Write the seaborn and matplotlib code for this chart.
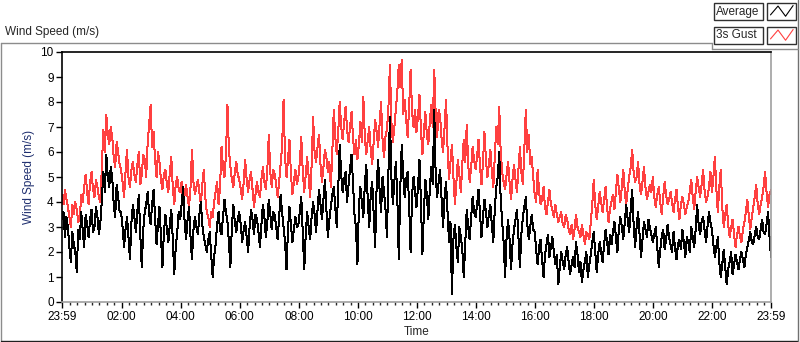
import numpy as np
import pandas as pd
import matplotlib
matplotlib.use("Agg")
import matplotlib.pyplot as plt
import seaborn as sns
from matplotlib.patches import Rectangle
from matplotlib.lines import Line2D

# 3-minute samples from 23:59 to 23:59 (one line per 2 hours)
avg_speed = [
    3.3, 3.6, 2.6, 3.4, 3.0, 2.2, 1.6, 2.8, 2.3, 2.0, 1.2, 2.9, 2.5, 3.6, 2.9, 2.2, 3.5, 3.1, 2.6, 3.3,
    3.7, 2.8, 3.0, 3.8, 3.4, 2.7, 3.2, 4.1, 5.2, 4.4, 5.9, 5.0, 4.6, 5.4, 5.0, 3.9, 3.4, 4.7, 4.2, 3.6,
    3.6, 3.0, 2.2, 2.9, 3.4, 2.6, 1.7, 3.2, 3.9, 3.4, 2.8, 3.6, 4.3, 2.7, 1.4, 2.9, 3.6, 3.9, 4.4, 3.5,
    3.1, 3.9, 4.5, 3.4, 2.3, 3.1, 3.8, 2.6, 1.4, 2.8, 3.5, 2.9, 2.4, 3.1, 3.7, 2.5, 1.1, 2.2, 2.8, 3.6,
    3.3, 3.9, 4.6, 3.2, 2.5, 3.3, 3.8, 2.6, 1.7, 2.9, 3.4, 3.0, 2.7, 3.5, 4.0, 3.1, 2.6, 2.3, 2.0, 2.5,
    2.8, 1.9, 1.0, 1.8, 2.3, 3.1, 3.6, 2.9, 2.7, 3.4, 4.1, 3.6, 3.2, 2.4, 1.4, 3.0, 3.9, 3.2, 2.8, 3.3,
    3.6, 3.1, 2.4, 2.9, 3.2, 2.6, 2.0, 3.0, 3.7, 3.3, 2.7, 3.5, 3.3, 2.8, 2.2, 3.1, 3.9, 3.4, 2.6, 3.2,
    4.1, 3.5, 2.9, 3.6, 3.5, 3.0, 2.5, 3.4, 4.3, 3.6, 3.0, 2.4, 1.3, 2.9, 3.8, 3.1, 2.4, 2.9, 3.4, 3.0,
    3.1, 3.6, 4.2, 2.8, 1.3, 2.7, 3.6, 3.0, 2.5, 3.4, 4.0, 3.5, 2.8, 3.7, 4.5, 3.9, 3.3, 4.1, 4.9, 3.7,
    2.6, 3.3, 3.8, 4.3, 4.6, 3.8, 3.0, 4.5, 6.3, 5.1, 4.4, 4.9, 5.2, 4.0, 4.7, 5.3, 5.9, 4.8, 3.5, 3.0,
    1.5, 3.8, 4.6, 4.0, 3.4, 4.7, 5.5, 4.1, 3.0, 4.3, 4.8, 3.5, 2.2, 4.6, 5.7, 4.5, 3.6, 5.0, 4.4, 3.7,
    2.6, 5.2, 7.4, 5.0, 3.9, 4.8, 5.6, 4.2, 1.7, 4.5, 6.3, 5.1, 4.2, 4.9, 5.2, 3.9, 2.0, 4.3, 5.0, 4.4,
    3.8, 4.6, 5.7, 4.0, 1.9, 3.6, 4.9, 4.3, 3.3, 4.5, 5.4, 4.7, 7.7, 5.0, 4.2, 4.8, 5.3, 4.1, 3.0, 4.2,
    4.8, 3.6, 2.4, 3.2, 0.3, 2.5, 3.1, 2.2, 1.6, 3.0, 2.6, 2.1, 1.0, 2.4, 3.7, 3.0, 2.5, 3.4, 4.2, 3.6,
    3.4, 3.9, 4.5, 3.5, 2.6, 3.4, 4.1, 3.6, 3.0, 3.5, 3.9, 3.1, 2.4, 3.7, 4.6, 5.0, 6.0, 4.1, 3.2, 2.4,
    1.0, 2.6, 3.3, 2.5, 1.3, 2.3, 2.9, 3.3, 3.7, 2.6, 1.4, 2.7, 3.4, 3.8, 4.2, 3.1, 2.5, 3.0, 3.5, 2.9,
    2.8, 2.1, 1.5, 2.2, 2.5, 1.7, 1.0, 1.9, 2.3, 2.7, 1.8, 2.2, 2.6, 2.0, 1.5, 1.9, 0.7, 1.4, 2.0, 1.6,
    1.3, 1.9, 2.2, 1.6, 1.1, 1.5, 1.8, 1.4, 2.4, 1.9, 1.2, 1.6, 0.8, 1.3, 1.6, 2.0, 1.0, 1.5, 1.9, 2.4,
    2.8, 2.0, 1.2, 1.9, 2.4, 2.0, 1.6, 2.3, 2.9, 2.4, 1.9, 2.7, 2.3, 2.8, 3.2, 2.6, 2.0, 2.9, 3.4, 3.0,
    2.5, 3.2, 3.9, 3.3, 2.8, 3.7, 4.5, 3.1, 2.2, 3.0, 3.6, 2.7, 1.8, 2.5, 3.2, 2.9, 2.6, 3.3, 3.0, 2.7,
    2.4, 2.7, 3.0, 2.2, 1.4, 2.1, 2.6, 2.9, 2.1, 2.5, 3.1, 2.6, 2.3, 2.0, 2.8, 2.2, 1.7, 2.3, 2.5, 2.1,
    2.9, 2.4, 1.8, 2.6, 2.4, 2.0, 3.0, 2.6, 2.2, 2.9, 3.9, 3.1, 2.7, 3.2, 3.4, 2.9, 2.4, 3.0, 3.6, 3.2,
    2.9, 2.3, 1.8, 2.2, 2.6, 1.6, 1.0, 1.5, 2.1, 1.4, 0.7, 1.3, 1.6, 2.0, 1.1, 1.5, 1.9, 1.6, 1.3, 1.7,
    2.0, 1.7, 1.4, 1.9, 2.2, 2.5, 2.8, 2.4, 2.3, 2.7, 3.0, 2.6, 2.5, 2.9, 3.3, 2.8, 2.7, 3.1, 3.6, 2.6,
    1.8,
]
gust_speed = [
    4.3, 3.9, 4.5, 4.1, 3.8, 3.4, 3.0, 3.9, 3.5, 4.0, 3.7, 3.2, 3.3, 4.3, 4.0, 4.6, 5.1, 4.4, 3.9, 4.8,
    5.2, 4.5, 4.2, 4.9, 4.6, 4.2, 4.0, 5.5, 6.9, 6.0, 7.5, 6.7, 6.3, 7.0, 6.6, 5.8, 5.4, 6.4, 6.0, 5.5,
    5.3, 4.8, 4.2, 5.2, 6.1, 5.0, 4.6, 5.3, 5.6, 5.1, 4.8, 5.5, 6.0, 4.7, 5.1, 5.9, 5.7, 5.0, 6.4, 7.1,
    7.9, 6.2, 6.8, 5.7, 5.0, 6.0, 5.6, 4.9, 4.5, 5.1, 5.3, 4.7, 4.4, 5.2, 5.8, 4.6, 3.9, 4.7, 5.0, 4.5,
    4.4, 4.8, 4.0, 4.3, 4.7, 4.2, 3.8, 4.6, 6.1, 4.8, 4.3, 4.6, 4.9, 4.4, 3.9, 4.7, 5.3, 4.2, 3.6, 3.4,
    3.0, 3.6, 3.4, 4.0, 4.4, 4.8, 3.9, 4.6, 6.2, 5.4, 5.0, 5.9, 7.9, 6.1, 5.4, 4.9, 4.6, 5.2, 5.6, 5.1,
    4.9, 4.5, 4.1, 4.8, 5.7, 4.9, 4.4, 4.9, 5.2, 4.5, 3.8, 4.3, 4.8, 4.4, 4.2, 4.9, 5.4, 4.8, 4.5, 5.3,
    6.7, 5.2, 4.6, 5.3, 5.1, 4.7, 4.2, 4.8, 5.5, 6.2, 8.1, 5.8, 5.0, 5.7, 6.5, 5.1, 4.3, 4.8, 5.3, 4.7,
    5.0, 5.6, 6.6, 5.2, 4.4, 5.1, 5.8, 5.0, 4.2, 5.5, 7.4, 6.0, 5.6, 6.2, 6.7, 5.5, 4.8, 5.4, 6.1, 5.8,
    5.2, 5.6, 4.6, 6.0, 7.7, 6.6, 5.9, 6.8, 8.0, 7.0, 6.5, 7.2, 7.8, 6.9, 6.4, 7.0, 7.6, 6.6, 5.9, 6.5,
    5.7, 6.3, 7.2, 6.4, 8.2, 6.6, 5.9, 6.5, 7.0, 6.1, 5.5, 6.4, 7.3, 6.8, 6.2, 7.1, 8.0, 6.5, 5.8, 6.6,
    6.9, 7.8, 9.5, 7.2, 6.4, 7.0, 7.7, 8.4, 9.5, 8.6, 9.7, 7.5, 8.1, 7.3, 6.6, 7.8, 9.3, 7.6, 7.0, 7.7,
    6.8, 7.4, 8.3, 6.9, 5.9, 6.8, 7.6, 6.7, 6.3, 7.2, 7.9, 7.0, 9.3, 7.5, 6.6, 7.7, 7.4, 6.5, 6.0, 7.0,
    8.1, 6.2, 4.9, 5.6, 6.3, 5.0, 3.9, 4.8, 5.7, 5.1, 4.4, 5.5, 6.5, 5.6, 7.1, 5.5, 4.8, 5.4, 6.2, 5.7,
    5.3, 5.8, 6.5, 5.4, 4.7, 5.6, 6.8, 5.7, 5.0, 5.5, 6.1, 5.2, 4.6, 5.8, 7.0, 6.3, 7.8, 6.0, 5.2, 4.8,
    4.5, 5.1, 5.6, 4.8, 4.1, 4.9, 5.5, 4.9, 4.4, 5.3, 6.2, 5.2, 4.7, 6.1, 7.7, 6.0, 6.7, 5.5, 5.8, 5.0,
    4.3, 4.0, 5.3, 4.4, 3.9, 4.1, 4.6, 3.8, 3.5, 4.0, 4.5, 3.9, 3.7, 3.4, 3.9, 3.5, 3.2, 3.4, 3.6, 3.1,
    3.0, 3.5, 3.3, 2.9, 2.7, 3.1, 2.5, 2.9, 3.5, 3.0, 2.8, 2.6, 3.1, 2.7, 2.3, 2.8, 2.7, 2.5, 3.2, 3.9,
    4.9, 3.9, 3.3, 3.8, 4.4, 4.0, 3.6, 4.1, 4.6, 3.8, 3.2, 3.7, 4.0, 4.3, 3.7, 4.4, 5.1, 4.5, 4.0, 4.6,
    5.3, 4.4, 3.9, 4.5, 5.0, 5.4, 6.1, 5.2, 4.8, 5.0, 5.6, 4.7, 4.3, 4.8, 5.4, 4.6, 4.1, 4.4, 4.7, 4.4,
    5.0, 4.2, 3.8, 4.3, 4.6, 4.0, 3.5, 4.2, 4.8, 4.3, 3.9, 4.1, 4.4, 4.0, 3.6, 4.1, 4.5, 3.8, 3.3, 3.9,
    4.2, 3.9, 3.5, 3.8, 4.0, 4.4, 4.9, 4.2, 3.7, 4.4, 5.0, 4.6, 4.2, 4.7, 5.3, 4.5, 4.0, 4.2, 4.6, 5.2,
    4.4, 5.0, 5.8, 4.5, 3.6, 4.6, 5.3, 3.8, 3.0, 3.5, 3.9, 3.1, 2.6, 3.0, 3.3, 2.7, 2.2, 2.7, 3.0, 2.6,
    2.4, 2.9, 3.2, 3.6, 4.1, 3.4, 2.9, 3.4, 3.8, 4.2, 4.7, 3.9, 3.5, 3.9, 4.2, 4.6, 5.2, 4.4, 3.8, 4.3,
    4.5,
]
sample_step = 3  # minutes between samples

# minutes after 23:59 for the time labels
tick_minutes = [0, 121, 241, 361, 481, 601, 721, 841, 961, 1081, 1201, 1321, 1440]
tick_labels = ['23:59', '02:00', '04:00', '06:00', '08:00', '10:00', '12:00',
               '14:00', '16:00', '18:00', '20:00', '22:00', '23:59']
series_names = ['Average', '3s Gust']
series_colors = ['black', '#ff4040']

df = pd.DataFrame({
    'minute': np.arange(len(avg_speed)) * sample_step,
    'Average': avg_speed,
    '3s Gust': gust_speed,
})

sns.set_style('white')
plt.rcParams['font.family'] = ['Liberation Sans', 'DejaVu Sans']

W, H = 800, 342
fig = plt.figure(figsize=(W / 100, H / 100), dpi=100)


def fx(px):
    return px / W


def fy(py):
    return 1 - py / H


ax = fig.add_axes([fx(62), fy(302), fx(771) - fx(62), fy(52) - fy(302)])

# gust first, average on top; crisp 1px traces like the instrument panel
sns.lineplot(data=df, x='minute', y='3s Gust', color=series_colors[1], lw=0.72,
             antialiased=False, ax=ax, legend=False)
sns.lineplot(data=df, x='minute', y='Average', color=series_colors[0], lw=0.72,
             antialiased=False, ax=ax, legend=False)

ax.set_xlim(0, 1440)
ax.set_ylim(0, 10)
ax.set_yticks(range(0, 11))
ax.set_xticks(tick_minutes)
ax.set_xticklabels(tick_labels)
minor = [m for m in range(16, 1440, 15) if m not in tick_minutes]
ax.set_xticks(minor, minor=True)
ax.tick_params(axis='both', which='major', direction='out', length=4, width=1,
               labelsize=8.5, colors='black', pad=2)
ax.tick_params(axis='x', which='minor', direction='out', length=2.5, width=1, bottom=True)
ax.tick_params(axis='x', which='major', length=4.5, bottom=True)
ax.tick_params(axis='y', which='major', left=True)

ax.set_xlabel('Time', fontsize=8.5, labelpad=2)
ax.set_ylabel('Wind Speed (m/s)', fontsize=8.5, color='#1f2f6f', labelpad=4)

for side in ['top', 'left']:
    ax.spines[side].set_color('black')
    ax.spines[side].set_linewidth(1.2)
for side in ['bottom', 'right']:
    ax.spines[side].set_color('#a0a0a0')
    ax.spines[side].set_linewidth(1.2)

# panel caption
fig.text(fx(5), fy(32), 'Wind Speed (m/s)', fontsize=8.5, va='center', ha='left')

# outer panel frame
def frame_line(xs, ys, color):
    fig.add_artist(Line2D([fx(v) for v in xs], [fy(v) for v in ys],
                          transform=fig.transFigure, color=color, lw=1))

frame_line([0.5, 712], [42.5, 42.5], '#8c8c8c')
frame_line([0.5, 0.5], [42.5, 341], '#8c8c8c')
frame_line([0.5, 797.5], [341, 341], '#202020')
frame_line([797.5, 797.5], [0, 341], '#707070')
frame_line([712, 712], [42.5, 49], '#8c8c8c')
frame_line([712, 797.5], [49, 49], '#8c8c8c')

# legend boxes
zig = [(0.12, 0.3), (0.38, 0.82), (0.64, 0.22), (0.9, 0.85)]
for row, (name, color) in enumerate(zip(series_names, series_colors)):
    top = 3 + row * 24
    bot = top + 17
    fig.add_artist(Rectangle((fx(714), fy(bot)), fx(763) - fx(714), fy(top) - fy(bot),
                             transform=fig.transFigure, facecolor='white',
                             edgecolor='#303030', lw=1))
    fig.text(fx(716), fy((top + bot) / 2), name, fontsize=8.5, va='center', ha='left')
    fig.add_artist(Rectangle((fx(767), fy(bot)), fx(796) - fx(767), fy(top) - fy(bot),
                             transform=fig.transFigure, facecolor='white',
                             edgecolor='#303030', lw=1))
    xs = [fx(767 + p[0] * 29) for p in zig]
    ys = [fy(bot - p[1] * 17) for p in zig]
    fig.add_artist(Line2D(xs, ys, transform=fig.transFigure, color=color, lw=0.8))

fig.savefig('out.png', dpi=100, facecolor='white')
